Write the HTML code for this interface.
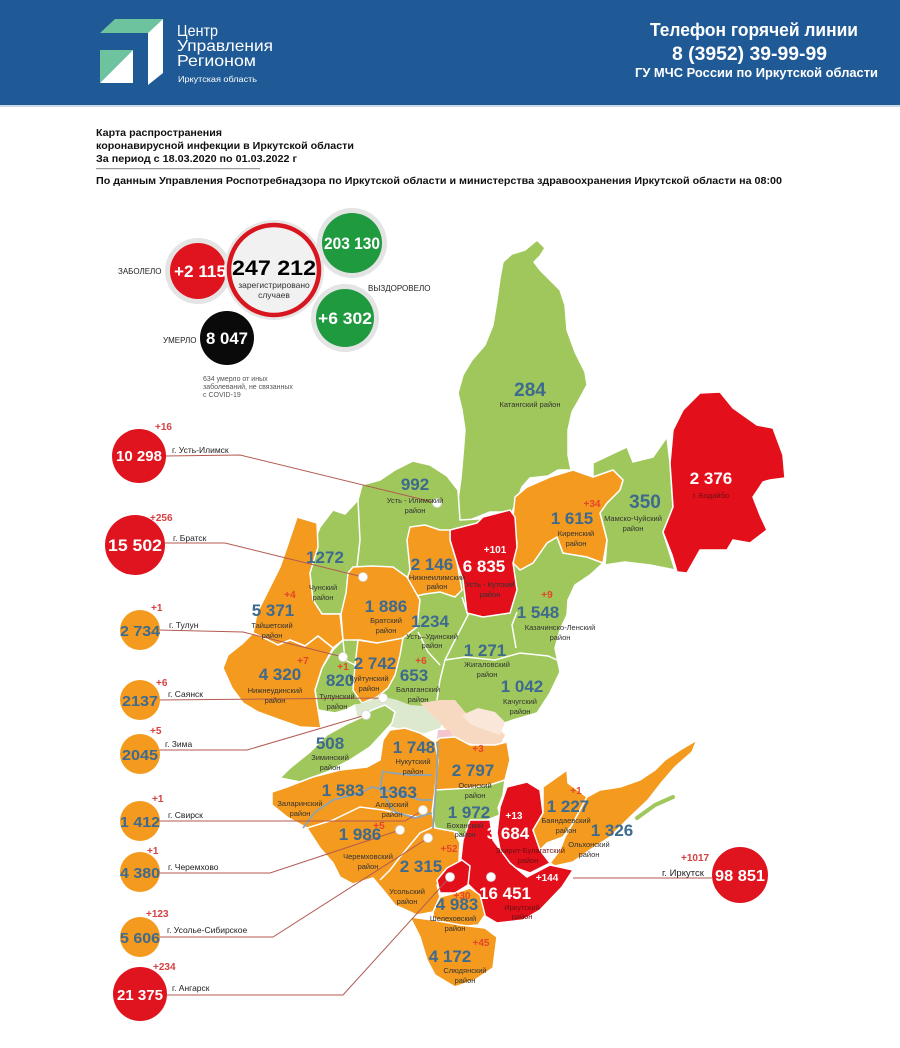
<!DOCTYPE html>
<html><head><meta charset="utf-8"><style>
html,body{margin:0;padding:0;background:#fff;}
svg{display:block;}
</style></head><body>
<svg width="900" height="1048" viewBox="0 0 900 1048" xmlns="http://www.w3.org/2000/svg" font-family="'Liberation Sans', Arial, sans-serif">
<rect width="900" height="1048" fill="#fff"/>
<!-- header -->
<rect width="900" height="105" fill="#1f5a96"/>
<rect y="105" width="900" height="2" fill="#cdd9e6"/>
<polygon points="115,19 163,19 148,33 100,33" fill="#6cc39d"/>
<polygon points="148,33 163,19 163,73 148,85" fill="#fff"/>
<polygon points="100,50 133,50 100,83" fill="#6cc39d"/>
<polygon points="133,50 133,83 100,83" fill="#fff"/>
<g fill="#fff">
<text x="177" y="36" font-size="16" textLength="41" lengthAdjust="spacingAndGlyphs">Центр</text>
<text x="177" y="51" font-size="16" textLength="96" lengthAdjust="spacingAndGlyphs">Управления</text>
<text x="177" y="66" font-size="16" textLength="79" lengthAdjust="spacingAndGlyphs">Регионом</text>
<text x="178" y="82" font-size="8" textLength="79" lengthAdjust="spacingAndGlyphs">Иркутская область</text>
<text x="650" y="36" font-size="18" font-weight="bold" textLength="208" lengthAdjust="spacingAndGlyphs">Телефон горячей линии</text>
<text x="672" y="60" font-size="19" font-weight="bold" textLength="155" lengthAdjust="spacingAndGlyphs">8 (3952) 39-99-99</text>
<text x="635" y="77" font-size="13" font-weight="bold" textLength="243" lengthAdjust="spacingAndGlyphs">ГУ МЧС России по Иркутской области</text>
</g>
<!-- titles -->
<g fill="#111" font-weight="bold" font-size="10.5">
<text x="96" y="136" textLength="126" lengthAdjust="spacingAndGlyphs">Карта распространения</text>
<text x="96" y="149" textLength="258" lengthAdjust="spacingAndGlyphs">коронавирусной инфекции в Иркутской области</text>
<text x="96" y="162" textLength="201" lengthAdjust="spacingAndGlyphs">За период с 18.03.2020 по 01.03.2022 г</text>
<text x="96" y="184" textLength="686" lengthAdjust="spacingAndGlyphs">По данным Управления Роспотребнадзора по Иркутской области и министерства здравоохранения Иркутской области на 08:00</text>
</g>
<rect x="96" y="168" width="164" height="1.2" fill="#999"/>

<!-- top stats -->
<circle cx="198" cy="271" r="33" fill="#e4e4e4"/>
<circle cx="198" cy="271" r="28" fill="#e0141e"/>
<circle cx="352" cy="243" r="35" fill="#e4e4e4"/>
<circle cx="352" cy="243" r="30" fill="#1f9a3f"/>
<circle cx="345" cy="318" r="34" fill="#e4e4e4"/>
<circle cx="345" cy="318" r="29" fill="#1f9a3f"/>
<circle cx="227" cy="338" r="27" fill="#0a0a0a"/>
<circle cx="274" cy="270" r="50" fill="#e6e6e6"/>
<circle cx="274" cy="270" r="45" fill="#f1f1f1" stroke="#d7161f" stroke-width="4.5"/>
<g font-weight="bold" text-anchor="middle">
<text x="200" y="277" font-size="17" fill="#fff" textLength="52" lengthAdjust="spacingAndGlyphs">+2 115</text>
<text x="274" y="275" font-size="21" fill="#000" textLength="84" lengthAdjust="spacingAndGlyphs">247 212</text>
<text x="352" y="249" font-size="17" fill="#fff" textLength="56" lengthAdjust="spacingAndGlyphs">203 130</text>
<text x="345" y="324" font-size="17" fill="#fff" textLength="54" lengthAdjust="spacingAndGlyphs">+6 302</text>
<text x="227" y="344" font-size="17" fill="#fff" textLength="42" lengthAdjust="spacingAndGlyphs">8 047</text>
</g>
<g font-size="8.5" fill="#333" text-anchor="middle">
<text x="274" y="288">зарегистрировано</text>
<text x="274" y="298">случаев</text>
</g>
<g font-size="8" fill="#222">
<text x="118" y="274">ЗАБОЛЕЛО</text>
<text x="368" y="291">ВЫЗДОРОВЕЛО</text>
<text x="163" y="343">УМЕРЛО</text>
</g>
<g font-size="7" fill="#555">
<text x="203" y="381">634 умерло от иных</text>
<text x="203" y="389">заболеваний, не связанных</text>
<text x="203" y="397">с COVID-19</text>
</g>

<!-- MAP -->
<g stroke="#fff" stroke-width="1.5" stroke-linejoin="round">
<!-- Katanga -->
<polygon fill="#9fc75b" points="537,240 545,248 540,256 534,262 540,270 552,282 560,290 565,305 567,330 575,352 585,372 587,385 580,398 572,412 568,430 568,455 571,470 558,470 548,476 530,478 522,487 517,500 512,512 490,512 470,520 458,520 458,500 461,478 463,455 465,430 462,410 458,393 463,375 472,360 485,345 493,325 497,300 500,278 503,262 512,254 525,250"/>
<!-- Mama-Chuya -->
<polygon fill="#9fc75b" points="593,463 627,447 633,462 653,457 667,437 670,463 673,507 663,532 675,570 650,565 625,562 605,565 607,540 600,513 607,503 620,490 623,480 613,470 593,477"/>
<!-- Bodaibo -->
<polygon fill="#e3101c" points="700,393 720,392 733,408 757,425 773,428 783,455 785,478 770,480 763,482 753,497 760,515 767,530 750,543 733,540 727,550 700,550 687,573 677,572 672,555 663,532 673,507 670,463 673,430 683,410"/>
<!-- central green base -->
<polygon fill="#9fc75b" points="460,520 513,517 517,543 520,570 533,563 547,543 557,537 563,553 587,557 603,563 590,575 575,585 568,600 567,615 560,630 555,648 560,672 550,693 537,713 513,720 493,727 473,723 460,712 440,705 420,710 397,707 387,700 375,705 355,705 345,710 335,713 318,710 315,690 322,668 333,650 343,640 341,614 322,614 313,600 307,580 312,548 320,527 333,510 345,514 358,500 362,485 380,480 395,470 413,461 430,465 447,476 458,490"/>
<!-- Kirensky -->
<polygon fill="#f39a1f" points="527,487 550,477 573,470 593,477 613,470 623,480 620,490 607,503 600,513 607,540 603,563 587,557 563,553 557,537 547,543 533,563 520,570 513,563 517,543 513,517 515,497"/>
<!-- Ust-Kut -->
<polygon fill="#e3101c" points="450,530 477,523 483,517 510,510 515,517 517,547 513,563 517,590 510,613 483,617 467,613 463,580 457,563 450,540"/>
<!-- Nizhneilimsk -->
<polygon fill="#f39a1f" points="410,527 425,525 440,530 450,530 450,540 457,563 462,590 455,597 440,592 425,594 412,597 405,585 410,570 407,540"/>
<!-- Taishet -->
<polygon fill="#f39a1f" points="297,517 317,523 318,547 310,573 313,600 322,614 340,614 343,640 333,648 318,636 305,646 290,640 278,645 262,637 253,633 257,613 270,587 280,567 287,547"/>
<!-- Nizhneudinsk -->
<polygon fill="#f39a1f" points="253,633 262,637 278,645 290,640 305,646 318,636 333,648 322,668 315,690 318,710 321,728 300,727 280,720 258,712 243,703 232,688 223,668 228,655 243,643"/>
<!-- Bratsk -->
<polygon fill="#f39a1f" points="353,567 372,566 393,567 407,577 420,600 417,627 400,640 377,643 360,640 343,640 341,614 346,593 348,573"/>
<!-- Kuitun -->
<polygon fill="#f39a1f" points="358,640 377,643 403,638 400,655 395,675 388,688 377,697 362,703 353,690 355,665"/>
</g>
<!-- faded Ust-Orda / light zones -->
<polygon fill="#dde9cf" points="355,705 372,700 385,697 397,700 410,705 425,706 437,700 445,715 440,728 425,733 410,732 397,728 385,725 370,735 360,728"/>
<polygon fill="#f7d9c1" points="420,703 440,700 455,700 465,712 478,722 495,725 505,735 500,745 480,745 462,742 450,735 442,725"/>
<polygon fill="#fae7da" points="462,715 478,708 495,712 505,722 500,735 485,730 470,724"/>
<polygon fill="#f3c5cc" points="438,730 450,730 455,745 452,762 440,765 436,750"/>
<g stroke="#fff" stroke-width="1.5" stroke-linejoin="round">
<!-- Zima -->
<polygon fill="#9fc75b" points="280,778 290,768 310,752 327,735 345,725 360,718 372,710 385,705 395,712 392,723 383,733 370,747 350,760 327,772 300,782"/>
<!-- south orange block -->
<polygon fill="#f39a1f" points="272,792 287,787 313,777 340,770 367,767 380,760 383,740 390,730 405,728 420,733 435,742 440,738 455,737 470,745 495,745 507,742 510,760 505,780 490,785 470,790 440,790 435,800 433,827 453,830 460,843 458,877 437,885 440,897 433,912 417,915 395,905 383,890 373,878 353,884 340,877 333,863 320,848 307,828 287,817 272,805"/>
<!-- Bokhan -->
<polygon fill="#9fc75b" points="435,790 470,788 490,785 505,780 503,795 498,808 500,815 475,825 462,838 457,832 435,828 432,812"/>
<!-- Ekhirit -->
<polygon fill="#e3101c" points="507,787 527,782 540,790 543,813 533,830 540,850 550,863 530,873 513,867 500,850 497,833 500,807"/>
<!-- Irkutsk district -->
<polygon fill="#e3101c" points="470,820 490,820 493,840 510,863 527,877 550,865 573,870 562,887 540,910 523,920 497,923 480,913 477,893 467,883 460,867 463,840"/>
<polygon fill="#e3101c" points="437,880 447,868 462,860 470,866 468,885 455,893 440,893"/>
<!-- Shelekhov -->
<polygon fill="#f39a1f" points="440,897 455,893 470,888 480,895 485,915 478,925 455,927 433,918 433,912"/>
<!-- Slyudyanka -->
<polygon fill="#f39a1f" points="410,917 433,920 460,925 485,928 497,937 493,968 475,980 455,987 435,975 427,960 420,937"/>
<!-- Bayandai -->
<polygon fill="#f39a1f" points="543,787 560,775 567,770 568,783 587,797 573,823 563,837 547,843 540,850 533,830 543,813"/>
<!-- Olkhon -->
<polygon fill="#f39a1f" points="573,823 587,797 600,790 620,787 640,780 655,770 665,760 680,750 697,740 692,752 675,767 662,782 648,800 630,817 610,837 590,850 573,862 555,866 550,863 560,850 565,837"/>
</g>
<polyline points="637,818 655,805 673,797" fill="none" stroke="#9fc75b" stroke-width="4" stroke-linecap="round"/>
<!-- internal white borders -->
<g fill="none" stroke="#fff" stroke-width="1.5">
<polyline points="358,500 360,540 357,567"/>
<polyline points="462,597 468,615 455,640 445,660 440,680 437,700"/>
<polyline points="517,612 512,625 516,648"/>
<polyline points="445,660 465,657 495,660 520,653 548,656 557,660"/>
<polyline points="418,632 428,652 440,665"/>
<polyline points="307,828 333,820 360,807 383,810 417,817 433,813"/>
<polyline points="433,827 420,833 410,845 400,857 390,870 380,880"/>
<polyline points="435,742 438,760 435,790"/>
<polyline points="343,640 345,660 355,665"/>
</g>
<g fill="none" stroke="#8aa4b8" stroke-width="1.8">
<polyline points="303,828 315,812 333,800 360,793 372,787 385,790 405,795 420,800 432,800"/>
<polyline points="438,742 437,770 435,800 433,828"/>
<polyline points="385,772 410,775 432,775"/>
<polyline points="383,770 380,790 395,812 415,818 432,813"/>
</g>

<!-- connector lines -->
<g fill="none" stroke="#b35a52" stroke-width="1">
<polyline points="165,456 240,455 437,503"/>
<polyline points="165,543 225,543 363,577"/>
<polyline points="158,630 243,632 343,657"/>
<polyline points="158,700 383,698"/>
<polyline points="158,750 247,750 366,715"/>
<polyline points="158,821 405,821 423,810"/>
<polyline points="158,873 270,873 400,830"/>
<polyline points="158,937 273,937 428,838"/>
<polyline points="164,995 343,995 450,877"/>
<polyline points="573,878 712,878"/>
</g>
<!-- dots -->
<g fill="#fff" stroke="#d8d8d8" stroke-width="0.8">
<circle cx="437" cy="503" r="4.5"/>
<circle cx="363" cy="577" r="4.5"/>
<circle cx="343" cy="657" r="4.5"/>
<circle cx="383" cy="698" r="4.5"/>
<circle cx="366" cy="715" r="4.5"/>
<circle cx="423" cy="810" r="4.5"/>
<circle cx="400" cy="830" r="4.5"/>
<circle cx="428" cy="838" r="4.5"/>
<circle cx="450" cy="877" r="4.5"/>
<circle cx="491" cy="877" r="4.5"/>
</g>

<!-- map numbers -->
<g font-weight="bold" font-size="17" fill="#3d6a8e" text-anchor="middle">
<text x="530" y="396" font-size="19">284</text>
<text x="645" y="508" font-size="19">350</text>
<text x="572" y="524">1 615</text>
<text x="415" y="490">992</text>
<text x="432" y="570">2 146</text>
<text x="325" y="563">1272</text>
<text x="273" y="616">5 371</text>
<text x="386" y="612">1 886</text>
<text x="430" y="627">1234</text>
<text x="538" y="618">1 548</text>
<text x="485" y="656">1 271</text>
<text x="522" y="692">1 042</text>
<text x="280" y="680">4 320</text>
<text x="340" y="686">820</text>
<text x="375" y="669">2 742</text>
<text x="414" y="681">653</text>
<text x="330" y="749">508</text>
<text x="414" y="753">1 748</text>
<text x="473" y="776">2 797</text>
<text x="343" y="796">1 583</text>
<text x="398" y="798">1363</text>
<text x="469" y="818">1 972</text>
<text x="568" y="812">1 227</text>
<text x="612" y="836">1 326</text>
<text x="360" y="840">1 986</text>
<text x="421" y="872">2 315</text>
<text x="457" y="910">4 983</text>
<text x="450" y="962">4 172</text>
</g>
<g font-weight="bold" font-size="17" fill="#fff" text-anchor="middle">
<text x="711" y="484">2 376</text>
<text x="484" y="572">6 835</text>
<text x="508" y="839">3 684</text>
<text x="505" y="899">16 451</text>
</g>
<g font-weight="bold" font-size="10" fill="#fff" text-anchor="middle">
<text x="495" y="553">+101</text>
<text x="514" y="819">+13</text>
<text x="547" y="881">+144</text>
</g>
<g font-weight="bold" font-size="10" fill="#e5452a" text-anchor="middle">
<text x="592" y="507">+34</text>
<text x="290" y="598">+4</text>
<text x="547" y="598">+9</text>
<text x="303" y="664">+7</text>
<text x="343" y="670">+1</text>
<text x="421" y="664">+6</text>
<text x="478" y="752">+3</text>
<text x="576" y="794">+1</text>
<text x="379" y="829">+5</text>
<text x="449" y="852">+52</text>
<text x="462" y="899">+30</text>
<text x="481" y="946">+45</text>
</g>
<g font-size="7.5" fill="#333" text-anchor="middle">
<text x="530" y="407">Катангский район</text>
<text x="633" y="521">Мамско-Чуйский</text><text x="633" y="531">район</text>
<text x="576" y="536">Киренский</text><text x="576" y="546">район</text>
<text x="490" y="587">Усть - Кутский</text><text x="490" y="597">район</text>
<text x="415" y="503">Усть - Илимский</text><text x="415" y="513">район</text>
<text x="437" y="580">Нижнеилимский</text><text x="437" y="589">район</text>
<text x="323" y="590">Чунский</text><text x="323" y="600">район</text>
<text x="272" y="628">Тайшетский</text><text x="272" y="638">район</text>
<text x="386" y="623">Братский</text><text x="386" y="633">район</text>
<text x="432" y="639">Усть–Удинский</text><text x="432" y="648">район</text>
<text x="560" y="630">Казачинско-Ленский</text><text x="560" y="640">район</text>
<text x="487" y="667">Жигаловский</text><text x="487" y="677">район</text>
<text x="520" y="704">Качугский</text><text x="520" y="714">район</text>
<text x="275" y="693">Нижнеудинский</text><text x="275" y="703">район</text>
<text x="337" y="699">Тулунский</text><text x="337" y="709">район</text>
<text x="369" y="681">Куйтунский</text><text x="369" y="691">район</text>
<text x="418" y="692">Балаганский</text><text x="418" y="702">район</text>
<text x="330" y="760">Зиминский</text><text x="330" y="770">район</text>
<text x="413" y="764">Нукутский</text><text x="413" y="774">район</text>
<text x="475" y="788">Осинский</text><text x="475" y="798">район</text>
<text x="300" y="806">Заларинский</text><text x="300" y="816">район</text>
<text x="392" y="807">Аларский</text><text x="392" y="817">район</text>
<text x="465" y="828">Боханский</text><text x="465" y="837">район</text>
<text x="566" y="823">Баяндаевский</text><text x="566" y="833">район</text>
<text x="589" y="847">Ольхонский</text><text x="589" y="857">район</text>
<text x="368" y="859">Черемховский</text><text x="368" y="869">район</text>
<text x="407" y="894">Усольский</text><text x="407" y="904">район</text>
<text x="453" y="921">Шелеховский</text><text x="455" y="931">район</text>
<text x="465" y="973">Слюдянский</text><text x="465" y="983">район</text>
</g>
<g font-size="7.5" fill="#6a1010" text-anchor="middle">
<text x="711" y="498">г. Бодайбо</text>
<text x="530" y="853">Эхирит-Булагатский</text><text x="528" y="863">район</text>
<text x="522" y="910">Иркутский</text><text x="522" y="919">район</text>
</g>

<!-- city circles -->
<circle cx="139" cy="456" r="27" fill="#e0141e"/>
<circle cx="135" cy="545" r="30" fill="#e0141e"/>
<circle cx="140" cy="630" r="20" fill="#f39a1f"/>
<circle cx="140" cy="700" r="20" fill="#f39a1f"/>
<circle cx="140" cy="754" r="20" fill="#f39a1f"/>
<circle cx="140" cy="821" r="20" fill="#f39a1f"/>
<circle cx="140" cy="872" r="20" fill="#f39a1f"/>
<circle cx="140" cy="937" r="20" fill="#f39a1f"/>
<circle cx="140" cy="994" r="27" fill="#e0141e"/>
<circle cx="740" cy="875" r="28" fill="#e0141e"/>
<g font-weight="bold" text-anchor="middle" font-size="15">
<text x="139" y="461" fill="#fff" textLength="46" lengthAdjust="spacingAndGlyphs">10 298</text>
<text x="135" y="551" fill="#fff" font-size="17" textLength="54" lengthAdjust="spacingAndGlyphs">15 502</text>
<text x="140" y="636" fill="#3d6a8e" textLength="40" lengthAdjust="spacingAndGlyphs">2 734</text>
<text x="140" y="706" fill="#3d6a8e" textLength="36" lengthAdjust="spacingAndGlyphs">2137</text>
<text x="140" y="760" fill="#3d6a8e" textLength="36" lengthAdjust="spacingAndGlyphs">2045</text>
<text x="140" y="827" fill="#3d6a8e" textLength="40" lengthAdjust="spacingAndGlyphs">1 412</text>
<text x="140" y="878" fill="#3d6a8e" textLength="40" lengthAdjust="spacingAndGlyphs">4 380</text>
<text x="140" y="943" fill="#3d6a8e" textLength="40" lengthAdjust="spacingAndGlyphs">5 606</text>
<text x="140" y="1000" fill="#fff" textLength="46" lengthAdjust="spacingAndGlyphs">21 375</text>
<text x="740" y="881" fill="#fff" font-size="16" textLength="50" lengthAdjust="spacingAndGlyphs">98 851</text>
</g>
<g font-weight="bold" font-size="10" fill="#d64040">
<text x="155" y="430">+16</text>
<text x="150" y="521">+256</text>
<text x="151" y="611">+1</text>
<text x="156" y="686">+6</text>
<text x="150" y="734">+5</text>
<text x="152" y="802">+1</text>
<text x="147" y="854">+1</text>
<text x="146" y="917">+123</text>
<text x="153" y="970">+234</text>
<text x="681" y="861">+1017</text>
</g>
<g font-size="8.5" fill="#222">
<text x="172" y="453">г. Усть-Илимск</text>
<text x="173" y="541">г. Братск</text>
<text x="169" y="628">г. Тулун</text>
<text x="168" y="697">г. Саянск</text>
<text x="165" y="747">г. Зима</text>
<text x="168" y="818">г. Свирск</text>
<text x="168" y="870">г. Черемхово</text>
<text x="167" y="933">г. Усолье-Сибирское</text>
<text x="172" y="991">г. Ангарск</text>
<text x="662" y="876" font-size="9.5">г. Иркутск</text>
</g>
</svg>
</body></html>
